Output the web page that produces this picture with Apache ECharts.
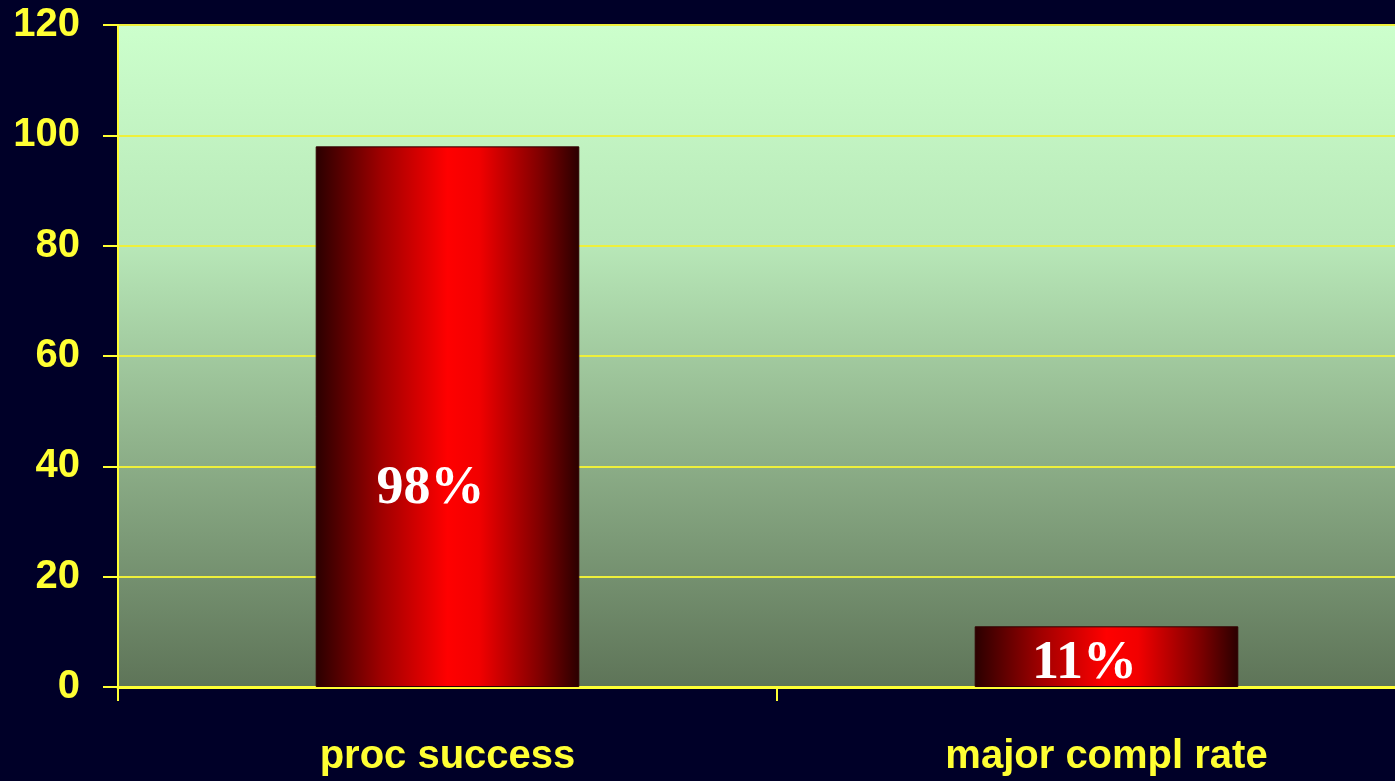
<!DOCTYPE html>
<html>
<head>
<meta charset="utf-8">
<script src="https://cdn.jsdelivr.net/npm/echarts@6/dist/echarts.min.js"></script>
<style>
  html, body { margin: 0; padding: 0; background: #000028; }
  #chart { width: 1395px; height: 781px; }
</style>
</head>
<body>
<div id="chart"></div>
<script>
// Procedure outcome figures (percent)
const categories = ['proc success', 'major compl rate'];
const values = [98, 11];
const valueLabels = ['98%', '11%'];
const labelOffsets = [[-17, 72], [-22, 7]];

const chart = echarts.init(document.getElementById('chart'));

// Cylinder-like shading across each bar
const barFill = new echarts.graphic.LinearGradient(0, 0, 1, 0, [
  { offset: 0, color: '#2a0000' },
  { offset: 0.25, color: '#a00000' },
  { offset: 0.5, color: '#ff0000' },
  { offset: 0.62, color: '#f20000' },
  { offset: 0.85, color: '#800000' },
  { offset: 1, color: '#2a0000' }
]);

// Plot area wash: pale green at the top fading to olive at the base
const plotFill = new echarts.graphic.LinearGradient(0, 0, 0, 1, [
  { offset: 0, color: '#ccffcc' },
  { offset: 0.33, color: '#b8e8b8' },
  { offset: 0.6, color: '#94b890' },
  { offset: 1, color: '#5e7458' }
]);

chart.setOption({
  backgroundColor: '#000028',
  animation: false,
  grid: {
    left: 118,
    top: 25,
    width: 1318,
    height: 662,
    outerBoundsMode: 'none',
    containLabel: false,
    show: true,
    backgroundColor: plotFill,
    borderWidth: 0
  },
  xAxis: {
    type: 'category',
    data: categories,
    axisLine: { show: true, lineStyle: { color: '#ffff33', width: 3 } },
    axisTick: { show: true, length: 14, lineStyle: { color: '#ffff33', width: 2 } },
    axisLabel: {
      color: '#ffff33',
      fontFamily: 'Liberation Sans',
      fontWeight: 'bold',
      fontSize: 40,
      margin: 50
    },
    splitLine: { show: false }
  },
  yAxis: {
    type: 'value',
    min: 0,
    max: 120,
    interval: 20,
    axisLine: { show: true, lineStyle: { color: '#ffff33', width: 2 } },
    axisTick: { show: true, length: 15, lineStyle: { color: '#ffff33', width: 2 } },
    axisLabel: {
      color: '#ffff33',
      fontFamily: 'Liberation Sans',
      fontWeight: 'bold',
      fontSize: 40,
      margin: 38
    },
    splitLine: { show: true, lineStyle: { color: '#eef03a', width: 2 } }
  },
  series: [{
    type: 'bar',
    barWidth: '40%',
    data: values.map((v, i) => ({
      value: v,
      label: {
        offset: labelOffsets[i],
        formatter: valueLabels[i]
      }
    })),
    itemStyle: {
      color: barFill,
      borderColor: '#300000',
      borderWidth: 1
    },
    label: {
      show: true,
      position: 'inside',
      color: '#ffffff',
      fontFamily: 'Liberation Serif',
      fontWeight: 'bold',
      fontSize: 54
    }
  }]
});
</script>
</body>
</html>
